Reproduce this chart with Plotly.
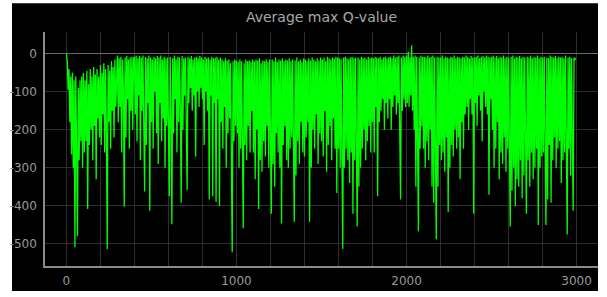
import plotly.graph_objects as go

step_size = 5
avg_max_q = [
    0, -20, -95, -40, -180, -60, -265, -50, -300, -70, -509, -60, -250, -480, -90, -280, -70, -230, -60, -300,
    -50, -260, -70, -230, -45, -408, -80, -240, -40, -200, -60, -280, -35, -190, -55, -330, -40, -170, -60, -220,
    -30, -240, -50, -160, -25, -260, -40, -200, -513, -30, -180, -45, -250, -20, -150, -35, -220, -15, -140, -30,
    -5, -180, -12, -140, -8, -260, -15, -90, -402, -10, -220, -6, -120, -15, -250, -10, -150, -8, -200, -12,
    -8, -160, -5, -230, -12, -110, -6, -280, -10, -150, -5, -190, -362, -8, -240, -12, -130, -5, -413, -10,
    -180, -15, -250, -8, -100, -12, -210, -6, -290, -10, -130, -5, -230, -15, -170, -8, -300, -12, -190, -10,
    -140, -375, -8, -160, -448, -12, -210, -5, -120, -15, -260, -8, -180, -10, -150, -392, -6, -200, -12, -110,
    -10, -160, -358, -8, -130, -12, -90, -6, -150, -15, -110, -10, -270, -8, -100, -12, -140, -6, -90, -10,
    -120, -15, -240, -8, -100, -12, -150, -10, -383, -15, -110, -8, -375, -12, -130, -10, -390, -8, -120, -15,
    -400, -10, -180, -15, -250, -20, -140, -12, -300, -18, -210, -15, -170, -25, -260, -522, -20, -230, -15, -190,
    -18, -210, -22, -300, -15, -250, -20, -180, -459, -25, -240, -15, -280, -20, -190, -18, -260, -22, -150, -15,
    -260, -20, -330, -15, -200, -18, -408, -12, -280, -25, -310, -18, -230, -20, -270, -15, -190, -22, -300, -15,
    -250, -421, -15, -290, -20, -350, -10, -210, -22, -260, -15, -300, -18, -446, -12, -240, -20, -190, -15, -280,
    -18, -300, -12, -250, -20, -220, -15, -310, -442, -18, -320, -10, -230, -20, -290, -15, -180, -22, -260, -12,
    -270, -15, -220, -20, -180, -12, -442, -18, -300, -10, -200, -15, -250, -20, -160, -12, -290, -18, -210, -10,
    -230, -15, -270, -10, -150, -20, -310, -8, -240, -12, -190, -15, -280, -10, -170, -12, -250, -8, -366, -10,
    -250, -12, -300, -15, -330, -513, -10, -300, -8, -250, -12, -280, -15, -340, -10, -260, -8, -421, -12, -280,
    -10, -300, -454, -10, -350, -15, -300, -8, -250, -12, -200, -10, -280, -15, -230, -8, -190, -12, -260, -10,
    -180, -12, -260, -8, -140, -10, -375, -12, -180, -8, -150, -15, -120, -10, -200, -8, -130, -12, -170, -10,
    -120, -8, -200, -12, -140, -5, -110, -10, -160, -8, -130, -5, -180, -383, -10, -150, -5, -120, -8, -140,
    -5, -130, 5, -140, -10, -110, 22, -150, -8, -200, -5, -350, -8, -170, -467, -10, -250, -5, -190, -8,
    -250, -8, -300, -10, -230, -5, -280, -10, -200, -8, -350, -5, -392, -10, -260, -488, -8, -350, -10, -240,
    -10, -280, -5, -260, -12, -310, -8, -220, -10, -416, -12, -300, -8, -240, -10, -270, -5, -200, -12, -250,
    -8, -220, -10, -330, -12, -180, -8, -250, -10, -160, -5, -140, -8, -200, -12, -120, -6, -160, -10, -421,
    -10, -130, -8, -190, -5, -110, -12, -150, -8, -230, -6, -100, -10, -140, -5, -160, -8, -371, -10, -120,
    -8, -200, -5, -300, -10, -250, -6, -180, -12, -330, -8, -260, -10, -290, -5, -220, -12, -310, -8, -250,
    -10, -300, -454, -8, -360, -5, -300, -12, -400, -8, -330, -10, -350, -6, -280, -12, -380, -8, -320, -10,
    -300, -421, -8, -280, -10, -350, -5, -260, -12, -330, -8, -300, -10, -250, -5, -450, -12, -300, -8, -270,
    -10, -260, -8, -300, -450, -10, -383, -12, -240, -5, -392, -8, -280, -10, -220, -6, -300, -12, -250, -8,
    -230, -10, -340, -8, -280, -12, -260, -5, -300, -475, -10, -250, -8, -320, -12, -280, -413, -10, -15, -12,
]
steps = [i * step_size for i in range(len(avg_max_q))]

x_tick_vals = [0, 1000, 2000, 3000]
x_tick_text = ["0", "1000", "2000", "3000"]
y_tick_vals = [0, -100, -200, -300, -400, -500]
y_tick_text = ["0", "-100", "-200", "-300", "-400", "-500"]
chart_title = "Average max Q-value"

fig = go.Figure()
fig.add_trace(go.Scatter(
    x=steps, y=avg_max_q, mode="lines",
    line=dict(color="#00ff00", width=1.3),
    hoverinfo="skip", showlegend=False,
))

W, H = 607, 297
ml, mr, mt, mb = 45, 9, 32, 21
pw, ph = W - ml - mr, H - mt - mb

# black panel surrounded by a thin white frame
fig.add_shape(
    type="rect", xref="paper", yref="paper", layer="below",
    x0=(12 - ml) / pw, x1=1.0, y0=-(mb + 5) / ph, y1=(ph + mt - 2) / ph,
    fillcolor="black", line=dict(width=0),
)

axis_font = dict(family="DejaVu Sans", size=12, color="#9a9a9a")
fig.update_layout(
    width=W, height=H,
    margin=dict(l=ml, r=mr, t=mt, b=mb, pad=0),
    paper_bgcolor="white", plot_bgcolor="black",
    title=dict(text=chart_title, x=0.5, xref="paper", xanchor="center",
               y=1 - 17 / H, yanchor="middle",
               font=dict(family="DejaVu Sans", size=14, color="#a8a8a8")),
    xaxis=dict(range=[-126, 3126], tickvals=x_tick_vals, ticktext=x_tick_text,
               showgrid=True, gridcolor="#2e2e2e", gridwidth=1,
               minor=dict(dtick=200, tick0=0, showgrid=True, gridcolor="#2e2e2e", gridwidth=1),
               zeroline=False, showline=True, linecolor="#8a8a8a", linewidth=1.5,
               ticks="", tickfont=axis_font, ticklabelstandoff=3, fixedrange=True),
    yaxis=dict(range=[-558, 57], tickvals=y_tick_vals, ticktext=y_tick_text,
               showgrid=True, gridcolor="#2e2e2e", gridwidth=1,
               zeroline=True, zerolinecolor="#6a6a6a", zerolinewidth=1,
               showline=True, linecolor="#8a8a8a", linewidth=1.5,
               ticks="", tickfont=axis_font, ticklabelstandoff=4, fixedrange=True),
)

fig.write_html(
    "out.html",
    config={"displayModeBar": False},
    post_script="document.body.style.margin='0';document.body.style.overflow='hidden';",
)
